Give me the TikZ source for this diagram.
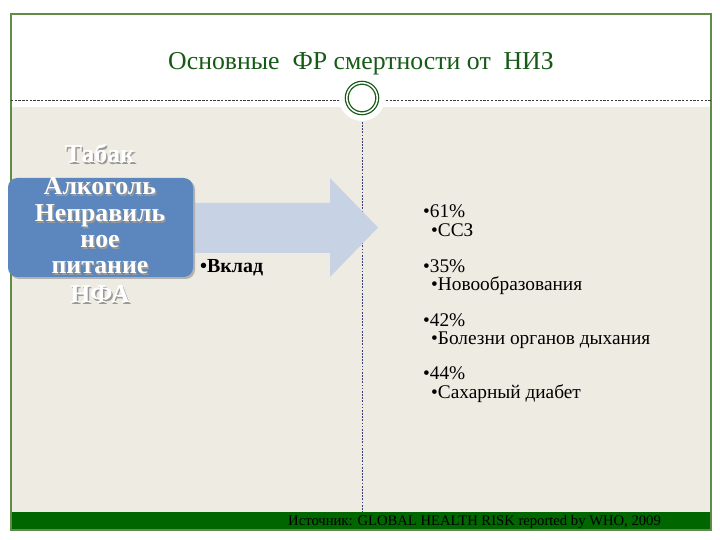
\documentclass[tikz,border=0pt]{standalone}
\usepackage{fontspec}
\setmainfont{Liberation Serif}
\definecolor{framegreen}{RGB}{96,140,74}
\definecolor{titlegreen}{RGB}{22,90,22}
\definecolor{paper}{RGB}{237,235,226}
\definecolor{footgreen}{RGB}{0,102,0}
\definecolor{boxblue}{RGB}{91,134,190}
\definecolor{arrowblue}{RGB}{199,210,228}
\definecolor{dashgray}{RGB}{60,60,60}
\definecolor{dashblue}{RGB}{60,60,120}
\newcommand{\shadowed}[1]{\makebox[0pt][l]{\hspace{1.2pt}\raisebox{-1.2pt}{\color{black!40}#1}}#1}
\begin{document}
\begin{tikzpicture}[x=0.03cm,y=-0.03cm,
	factor/.style={anchor=base,inner sep=0pt,font=\fontsize{22}{22}\selectfont\bfseries,text=white},
	item/.style={anchor=base west,font=\fontsize{16.5}{17}\selectfont}]
		\useasboundingbox (0,0) rectangle (720,540);
		%page
			\fill[white] (0,0) rectangle (720,540);
			\fill[paper] (11,107) rectangle (711,512);
			\fill[footgreen] (11,512) rectangle (711,530);
			\draw[framegreen,line width=1pt] (11,14) rectangle (711,530);
			
		%header
			\node[font=\fontsize{22}{22}\selectfont,text=titlegreen,anchor=base] (title) at (361,70)
				{Основные \ ФР смертности от \ НИЗ};
			\draw[dashgray,dash pattern=on 2pt off 1.2pt,line width=0.5pt] (11,100) -- (711,100);
			\fill[white] (362,98) circle (23);
			\node[circle,draw=titlegreen,double=white,double distance=1.3pt,line width=1.1pt,
				fill=white,minimum size=26pt] (emblem) at (362,98) {};
			\draw[dashblue,dash pattern=on 1.5pt off 1.2pt,line width=0.5pt] (362,122) -- (362,512);
			
		%arrow and factors
			\fill[arrowblue] (190,203) -- (330,203) -- (330,178) -- (378,227.5)
				-- (330,277) -- (330,253) -- (190,253) -- cycle;
			\fill[black!30,rounded corners=8pt] (10,180) rectangle (195,279);
			\fill[boxblue,rounded corners=8pt] (8,178) rectangle (193,277);
			\foreach \n/\y/\t in {1/163/Табак, 2/195/Алкоголь, 3/222/Неправиль,
				4/248/ное, 5/274/питание, 6/303/НФА}{
				\node[factor] (f\n) at (100,\y) {\shadowed{\t}};
			}
			\node[anchor=base west,font=\fontsize{17}{17}\selectfont\bfseries] (share) at (196,273) {•Вклад};
			
		%right column
			\foreach \n/\y/\t in {1/218/61\%, 2/273/35\%, 3/327/42\%, 4/380/44\%}{
				\node[item] (p\n) at (419,\y) {•\t};
			}
			\foreach \n/\y/\t in {1/237/ССЗ, 2/291/Новообразования, 3/345/Болезни органов дыхания,
				4/398/Сахарный диабет}{
				\node[item] (d\n) at (427,\y) {•\t};
			}
			
		%footer
			\node[anchor=base east,font=\fontsize{12.5}{13}\selectfont,text=black] (source) at (665,525)
				{Источник: GLOBAL HEALTH RISK reported by WHO, 2009};
		\end{tikzpicture}
\end{document}
